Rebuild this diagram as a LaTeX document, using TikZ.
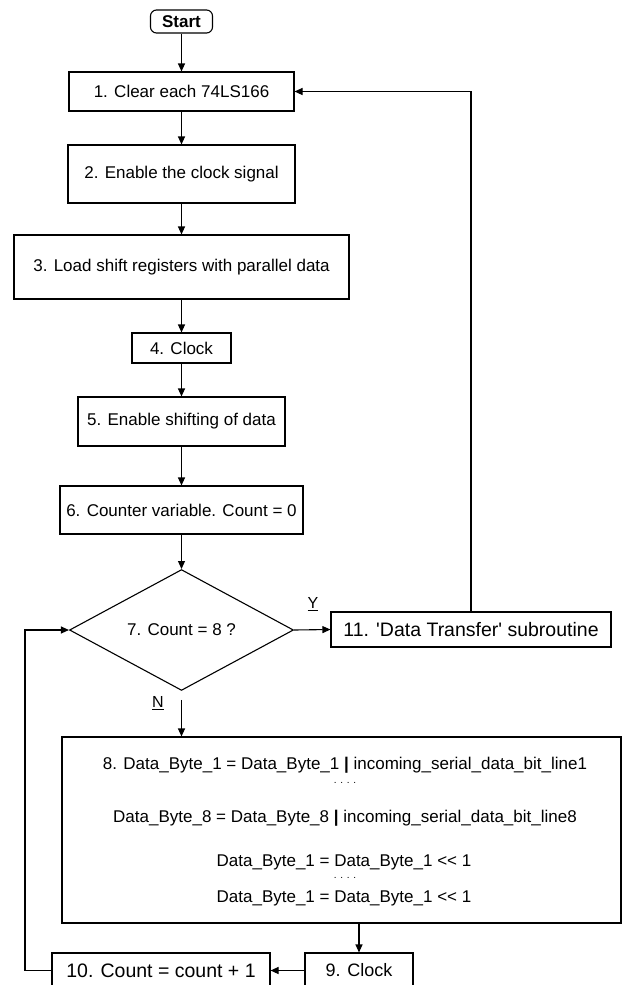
\documentclass[tikz,border=0pt]{standalone}
\usepackage{fontspec}
\setmainfont{Liberation Sans}
\usetikzlibrary{arrows.meta,shapes.geometric}

\tikzset{
  x=1pt, y=-1pt,
  flow/.style={line width=1.1pt},
  arr/.style={flow, -{Triangle[length=8pt,width=7pt]}},
  box/.style={draw, flow, rectangle, inner sep=0pt, align=center,
              font=\fontsize{17}{20}\selectfont},
  bigbox/.style={box, font=\fontsize{19.5}{22}\selectfont},
  decision/.style={draw, flow, diamond, inner sep=0pt,
                   font=\fontsize{17}{20}\selectfont},
  codeline/.style={inner sep=0pt, font=\fontsize{17}{20}\selectfont},
  dotline/.style={inner sep=0pt, font=\fontsize{10}{10}\selectfont},
  branch/.style={inner sep=0pt, font=\fontsize{16}{18}\selectfont}
}

\begin{document}
\begin{tikzpicture}
\useasboundingbox (0,0) rectangle (625,985);
\clip (0,0) rectangle (625,985);

% main column
\node[box, rounded corners=6pt, minimum width=62pt, minimum height=23pt,
      font=\bfseries\fontsize{17}{20}\selectfont] (start) at (181.5,21.5) {Start};
\node[box, minimum width=225pt, minimum height=39pt] (b1) at (181.5,91.5) {1. Clear each 74LS166};
\node[box, minimum width=227pt, minimum height=58pt] (b2) at (181.5,174) {2. Enable the clock signal};
\node[box, minimum width=335pt, minimum height=64pt] (b3) at (181.5,267) {3. Load shift registers with parallel data};
\node[box, minimum width=99pt, minimum height=30pt] (b4) at (181.5,348) {4. Clock};
\node[box, minimum width=207pt, minimum height=49pt] (b5) at (181.5,421.5) {5. Enable shifting of data};
\node[box, minimum width=243pt, minimum height=48pt] (b6) at (181.5,510) {6. Counter variable. Count = 0};
\node[decision, minimum width=224pt, minimum height=105pt] (d7) at (181.5,630) {7. Count = 8 ?};

% yes branch
\node[bigbox, minimum width=280pt, minimum height=35pt] (b11) at (471,629.5)
  {11. \textquotesingle Data Transfer\textquotesingle\ subroutine};

% no branch: shifting block
\node[box, minimum width=559pt, minimum height=186pt] (b8) at (341.5,830) {};
\node[codeline] (l1) at (345,765) {8. Data\_Byte\_1 = Data\_Byte\_1 {\bfseries|} incoming\_serial\_data\_bit\_line1};
\node[dotline]  (l2) at (345,783) {. . . .};
\node[codeline] (l3) at (345,818) {Data\_Byte\_8 = Data\_Byte\_8 {\bfseries|} incoming\_serial\_data\_bit\_line8};
\node[codeline] (l4) at (344,862) {Data\_Byte\_1 = Data\_Byte\_1 <{}< 1};
\node[dotline]  (l5) at (345,878) {. . . .};
\node[codeline] (l6) at (344,898) {Data\_Byte\_1 = Data\_Byte\_1 <{}< 1};

\node[box, font=\fontsize{18}{20}\selectfont, minimum width=108pt, minimum height=35pt] (b9) at (359,970.5) {9. Clock};
\node[bigbox, minimum width=218pt, minimum height=35pt] (b10) at (161,970.5) {10. Count = count + 1};

% branch labels
\node[branch] (ylab) at (313,604) {\underline{Y}};
\node[branch] (nlab) at (158,703) {\underline{N}};

\coordinate (loopL) at (25,970.5);

% connectors
\draw[arr] (start.south) -- (b1.north);
\draw[arr] (b1.south) -- (b2.north);
\draw[arr] (b2.south) -- (b3.north);
\draw[arr] (b3.south) -- (b4.north);
\draw[arr] (b4.south) -- (b5.north);
\draw[arr] (b5.south) -- (b6.north);
\draw[arr] (b6.south) -- (d7.north);
\draw[arr] (d7.east) -- (b11.west);
\draw[arr, shorten <=9pt] (d7.south) -- (d7.south |- b8.north);
\draw[arr] (b9.north |- b8.south) -- (b9.north);
\draw[arr] (b9.west) -- (b10.east);
\draw[arr] (b10.west) -- (loopL) |- (d7.west);
\draw[arr] (b11.north) -- (b11.north |- b1.east) -- (b1.east);
\end{tikzpicture}
\end{document}
